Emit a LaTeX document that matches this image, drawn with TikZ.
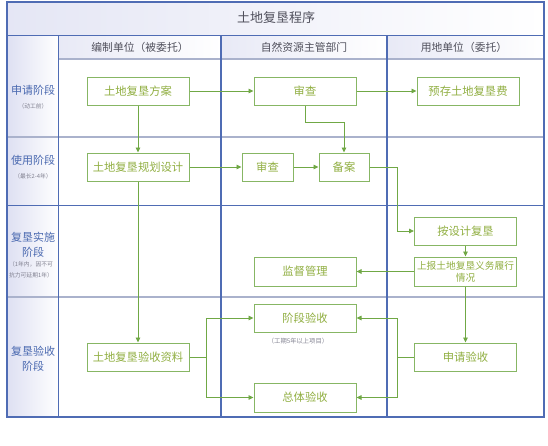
\documentclass[tikz,border=0pt]{standalone}
\usepackage{fontspec}
\setmainfont{Noto Sans CJK SC}
\usetikzlibrary{arrows.meta}
\definecolor{laneblue}{RGB}{79,108,180}
\definecolor{rowgray}{RGB}{170,178,204}
\definecolor{lav}{RGB}{222,224,242}
\definecolor{boxgreen}{RGB}{135,182,100}
\definecolor{linegreen}{RGB}{112,168,69}
\definecolor{textgreen}{RGB}{145,175,66}
\definecolor{stageblue}{RGB}{74,105,176}
\definecolor{headgray}{RGB}{80,80,92}
\definecolor{notegray}{RGB}{130,130,145}
\begin{document}
\begin{tikzpicture}[x=1pt,y=-1pt,
  box/.style={draw=boxgreen,line width=1pt,fill=white,minimum width=102pt,minimum height=28pt,inner sep=0pt,text=textgreen,font=\fontsize{11.3}{13}\selectfont},
  arr/.style={draw=linegreen,line width=0.9pt,-{Triangle[length=5pt,width=4.5pt]}},
  link/.style={draw=linegreen,line width=0.9pt},
  stage/.style={text=stageblue,font=\fontsize{11}{15}\selectfont,align=center},
  note/.style={text=notegray,font=\fontsize{5.8}{11}\selectfont,align=center},
  head/.style={text=headgray,font=\fontsize{10.8}{13}\selectfont}]
\useasboundingbox (0,0) rectangle (548,445);

\shade[left color=lav!80,right color=white] (7,2) rectangle (544,35);
\shade[left color=lav!70,right color=white] (58.7,35) rectangle (221,59);
\shade[left color=lav!70,right color=white] (221,35) rectangle (387,59);
\shade[left color=lav!70,right color=white] (387,35) rectangle (544,59);
\shade[left color=lav,right color=white] (7,35) rectangle (58.7,417);

\draw[rowgray,line width=1.6pt] (58.7,59) -- (544,59);
\draw[rowgray,line width=1.6pt] (7,137) -- (544,137);
\draw[laneblue,line width=0.9pt] (7,205) -- (544,205);
\draw[rowgray,line width=1.6pt] (7,297) -- (544,297);
\draw[laneblue,line width=1pt] (7,35) -- (544,35);
\draw[laneblue,line width=1.1pt] (58.7,35) -- (58.7,417);
\draw[laneblue,line width=1.1pt] (221,35) -- (221,417);
\draw[laneblue,line width=1.1pt] (387,35) -- (387,417);
\draw[laneblue,line width=1.1pt] (7,2) rectangle (544,417);

\node[text=headgray,font=\fontsize{13}{15}\selectfont] (title) at (276,18) {土地复垦程序};
\node[head] (hbz) at (140,47) {编制单位（被委托）};
\node[head] (hzr) at (304,47) {自然资源主管部门};
\node[head] (hyd) at (464,47) {用地单位（委托）};

\node[stage] (s1) at (33,90) {申请阶段};
\node[note] (n1) at (33,106) {（动工前）};
\node[stage] (s2) at (33,160) {使用阶段};
\node[note] (n2) at (33,176) {（最长2-4年）};
\node[stage] (s3) at (33,244.5) {复垦实施\\阶段};
\node[note] (n3) at (31,269.5) {（1年内，因不可\\抗力可延期1年）};
\node[stage] (s4) at (33,358.5) {复垦验收\\阶段};

\node[box] (fa) at (138,91) {土地复垦方案};
\node[box] (sc1) at (305,91) {审查};
\node[box] (yc) at (468,91) {预存土地复垦费};
\node[box] (gh) at (138,167) {土地复垦规划设计};
\node[box,minimum width=51pt] (sc2) at (267.5,167) {审查};
\node[box,minimum width=50pt] (ba) at (344,167) {备案};
\node[box] (az) at (465.5,231) {按设计复垦};
\node[box,minimum height=29pt,align=center,font=\fontsize{9.7}{12}\selectfont] (sb) at (465.5,271.5) {上报土地复垦义务履行\\情况};
\node[box,minimum height=29pt] (jd) at (305,271.5) {监督管理};
\node[box] (ys) at (138,357) {土地复垦验收资料};
\node[box] (jdys) at (305,318) {阶段验收};
\node[note,font=\fontsize{6.3}{8}\selectfont] (n5) at (298,341) {（工期5年以上项目）};
\node[box,minimum height=29pt] (ztys) at (305,397.5) {总体验收};
\node[box] (sqys) at (465.5,357) {申请验收};

\draw[arr] (fa) -- (sc1);
\draw[arr] (sc1) -- (yc);
\draw[arr] (fa) -- (gh);
\draw[arr] (sc1.south) -- ++(0,17) -| (ba.north);
\draw[arr] (gh) -- (sc2);
\draw[arr] (sc2) -- (ba);
\draw[arr] (ba.east) -- ++(28,0) |- (az.west);
\draw[arr] (gh) -- (ys);
\draw[arr] (az) -- (sb);
\draw[arr] (sb) -- (jd);
\draw[arr] (sb) -- (sqys);
\draw[link] (ys.east) -- ++(17,0) coordinate (ysj);
\draw[arr] (ysj) |- (jdys.west);
\draw[arr] (ysj) |- (ztys.west);
\draw[link] (sqys.west) -- ++(-17,0) coordinate (sqj);
\draw[arr] (sqj) |- (jdys.east);
\draw[arr] (sqj) |- (ztys.east);
\end{tikzpicture}
\end{document}
